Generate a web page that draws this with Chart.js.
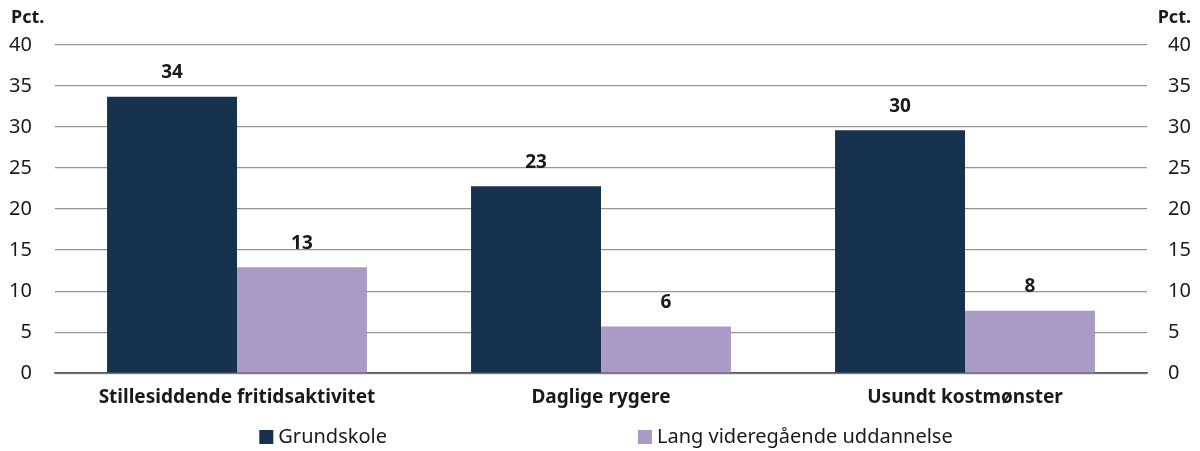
<!DOCTYPE html>
<html lang="da">
<head>
<meta charset="utf-8">
<title>Livsstil efter uddannelse</title>
<script src="https://cdn.jsdelivr.net/npm/chart.js@4/dist/chart.umd.min.js"></script>
<style>
  html, body { margin: 0; padding: 0; background: #ffffff; }
  #wrap { width: 1200px; height: 451px; position: relative; }
</style>
</head>
<body>
<div id="wrap"><canvas id="chart"></canvas></div>
<script>
// Categories and series (percent)
const categories = ['Stillesiddende fritidsaktivitet', 'Daglige rygere', 'Usundt kostmønster'];
const grundskole = [33.7, 22.8, 29.6];
const langVideregaaende = [12.9, 5.7, 7.6];
const seriesNames = ['Grundskole', 'Lang videregående uddannelse'];
const axisMin = 0;
const axisMax = 40;
const axisStep = 5;
const unitLabel = 'Pct.';

const FONT = '"Noto Sans", "Open Sans", sans-serif';
const TEXT = '#1a1a1a';

// Values over each bar, rounded to whole percent
const valueLabels = {
  id: 'valueLabels',
  afterDatasetsDraw(chart) {
    const ctx = chart.ctx;
    ctx.save();
    ctx.font = `bold 19px ${FONT}`;
    ctx.fillStyle = TEXT;
    ctx.textAlign = 'center';
    ctx.textBaseline = 'middle';
    chart.data.datasets.forEach((ds, i) => {
      chart.getDatasetMeta(i).data.forEach((bar, j) => {
        ctx.fillText(String(Math.round(ds.data[j])), bar.x, bar.y - 24);
      });
    });
    ctx.restore();
  }
};

// Unit caption above both value axes
const unitCaption = {
  id: 'unitCaption',
  afterDraw(chart) {
    const ctx = chart.ctx;
    ctx.save();
    ctx.font = `bold 18px ${FONT}`;
    ctx.fillStyle = TEXT;
    ctx.textBaseline = 'middle';
    ctx.textAlign = 'left';
    ctx.fillText(unitLabel, 11, 18);
    ctx.textAlign = 'right';
    ctx.fillText(unitLabel, 1191, 18);
    ctx.restore();
  }
};

// Legend row below the category labels, with a wide gap between entries
const wideLegend = {
  id: 'wideLegend',
  afterDraw(chart, args, opts) {
    const ctx = chart.ctx;
    const box = opts.box, gap = opts.gap, textGap = opts.textGap;
    ctx.save();
    ctx.font = `${opts.size}px ${FONT}`;
    ctx.textBaseline = 'middle';
    ctx.textAlign = 'left';
    const items = chart.data.datasets.map(ds => ({
      text: ds.label, color: ds.backgroundColor,
      w: box + textGap + ctx.measureText(ds.label).width
    }));
    const total = items.reduce((s, it) => s + it.w, 0) + gap * (items.length - 1);
    let x = opts.centerX - total / 2;
    const y = opts.y;
    items.forEach(it => {
      ctx.fillStyle = it.color;
      ctx.fillRect(x, y - box / 2, box, box);
      ctx.fillStyle = TEXT;
      ctx.fillText(it.text, x + box + textGap, y);
      x += it.w + gap;
    });
    ctx.restore();
  }
};

new Chart(document.getElementById('chart'), {
  type: 'bar',
  data: {
    labels: categories,
    datasets: [
      { label: seriesNames[0], data: grundskole, backgroundColor: '#17324f', yAxisID: 'y' },
      { label: seriesNames[1], data: langVideregaaende, backgroundColor: '#aa9bc6', yAxisID: 'y' }
    ]
  },
  options: {
    responsive: true,
    maintainAspectRatio: false,
    animation: false,
    devicePixelRatio: 1,
    layout: { padding: { top: 45, left: 0, right: 0, bottom: 29 } },
    datasets: { bar: { barPercentage: 1.0, categoryPercentage: 0.714 } },
    scales: {
      x: {
        grid: { display: false, drawTicks: false },
        border: { display: true, color: '#5a5a5a', width: 1.5 },
        ticks: { color: TEXT, font: { family: FONT, size: 19, weight: 'bold' }, padding: 13, maxRotation: 0 }
      },
      y: {
        position: 'left',
        min: axisMin, max: axisMax,
        afterFit(scale) { scale.width = 55; },
        grid: { color: '#969696', lineWidth: 1.3, drawTicks: false },
        border: { display: false },
        ticks: { stepSize: axisStep, color: TEXT, font: { family: FONT, size: 20 }, padding: 23 }
      },
      y2: {
        position: 'right',
        min: axisMin, max: axisMax,
        afterFit(scale) { scale.width = 53; },
        grid: { display: false, drawTicks: false },
        border: { display: false },
        ticks: { stepSize: axisStep, color: TEXT, font: { family: FONT, size: 20 }, padding: 21 }
      }
    },
    plugins: {
      legend: { display: false },
      tooltip: { enabled: false },
      wideLegend: { box: 14, textGap: 5, gap: 251, size: 20, centerX: 606, y: 437 }
    }
  },
  plugins: [valueLabels, unitCaption, wideLegend]
});
</script>
</body>
</html>
